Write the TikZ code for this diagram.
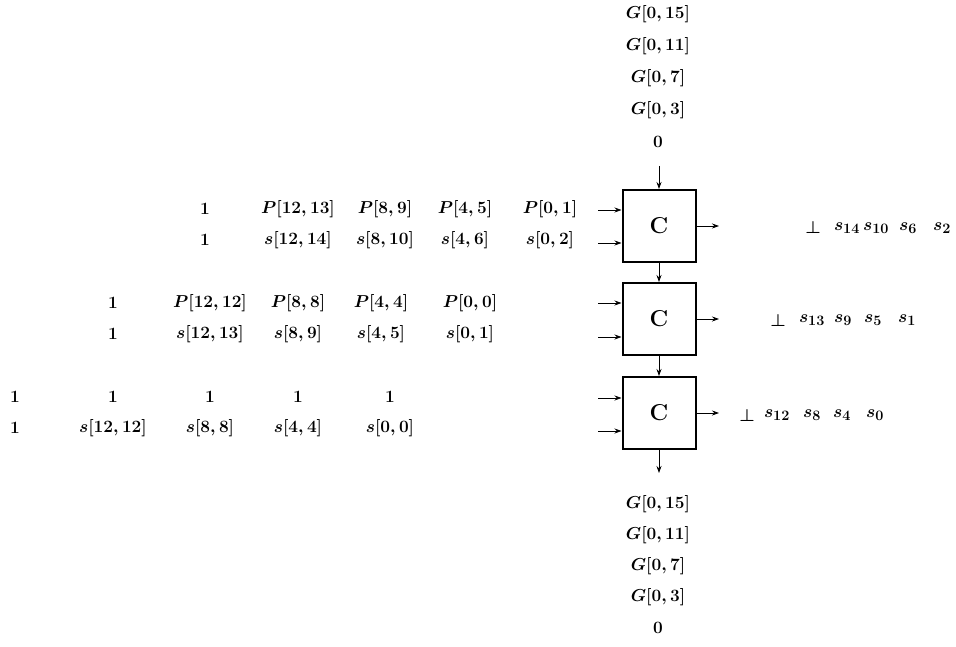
\documentclass[tikz,border=0pt]{standalone}
\usepackage{amsmath}
\usepackage{tikz}
\usetikzlibrary{positioning, arrows, arrows.meta}

\tikzset{cell/.style={draw,line width=2pt,minimum width=73pt,minimum height=72pt,inner sep=0pt,font=\fontsize{23}{26}\selectfont\bfseries},
         lbl/.style={inner sep=1pt}}

\begin{document}
\begin{tikzpicture}[->,>={Stealth[length=7pt,width=5pt]},x=1pt,y=-1pt,thick,font=\fontsize{19}{22}\selectfont\boldmath]
      \useasboundingbox (0,0) rectangle (956,647);

      \node[cell] (c1) at (659,226) {C};
      \node[cell] (c2) at (659,319) {C};
      \node[cell] (c3) at (659,413) {C};

      % carry in and out
      \foreach \t [count=\i] in {{G[0,15]},{G[0,11]},{G[0,7]},{G[0,3]},0}
        \node[lbl] (gi\i) at (658,14+32*\i-32) {$\t$};
      \foreach \t [count=\i] in {{G[0,15]},{G[0,11]},{G[0,7]},{G[0,3]},0}
        \node[lbl] (go\i) at (658,504+31*\i-31) {$\t$};
      \coordinate (cin) at (659,166);
      \coordinate (cout) at (659,473);

      % input rows
      \foreach \x/\t [count=\i] in {205/1,298/{P[12,13]},385/{P[8,9]},465/{P[4,5]},550/{P[0,1]}}
        \node[lbl] (pa\i) at (\x,209) {$\t$};
      \foreach \x/\t [count=\i] in {205/1,298/{s[12,14]},385/{s[8,10]},465/{s[4,6]},550/{s[0,2]}}
        \node[lbl] (sa\i) at (\x,240) {$\t$};
      \foreach \x/\t [count=\i] in {113/1,210/{P[12,12]},298/{P[8,8]},381/{P[4,4]},470/{P[0,0]}}
        \node[lbl] (pb\i) at (\x,303) {$\t$};
      \foreach \x/\t [count=\i] in {113/1,210/{s[12,13]},298/{s[8,9]},381/{s[4,5]},470/{s[0,1]}}
        \node[lbl] (sb\i) at (\x,334) {$\t$};
      \foreach \x/\t [count=\i] in {15/1,113/1,210/1,298/1,390/1}
        \node[lbl] (pc\i) at (\x,397) {$\t$};
      \foreach \x/\t [count=\i] in {15/1,113/{s[12,12]},210/{s[8,8]},298/{s[4,4]},390/{s[0,0]}}
        \node[lbl] (sc\i) at (\x,428) {$\t$};

      % outputs
      \foreach \x/\t [count=\i] in {813/\perp,847/s_{14},876/s_{10},908/s_6,942/s_2}
        \node[lbl] (ra\i) at (\x,228) {$\t$};
      \foreach \x/\t [count=\i] in {778/\perp,812/s_{13},843/s_9,873/s_5,907/s_1}
        \node[lbl] (rb\i) at (\x,320) {$\t$};
      \foreach \x/\t [count=\i] in {747/\perp,777/s_{12},812/s_8,842/s_4,875/s_0}
        \node[lbl] (rc\i) at (\x,415) {$\t$};

      \foreach \y [count=\i] in {210,243,303,337,398,431}
        \coordinate (in\i) at (598,\y);
      \foreach \y [count=\i] in {226,319,413}
        \coordinate (out\i) at (719,\y);

      \draw (cin) -- (c1);
      \draw (c1) -- (c2);
      \draw (c2) -- (c3);
      \draw (c3) -- (cout);
      \draw (in1) -- (in1 -| c1.west);
      \draw (in2) -- (in2 -| c1.west);
      \draw (in3) -- (in3 -| c2.west);
      \draw (in4) -- (in4 -| c2.west);
      \draw (in5) -- (in5 -| c3.west);
      \draw (in6) -- (in6 -| c3.west);
      \draw (c1.east) -- (out1);
      \draw (c2.east) -- (out2);
      \draw (c3.east) -- (out3);
\end{tikzpicture}
\end{document}
